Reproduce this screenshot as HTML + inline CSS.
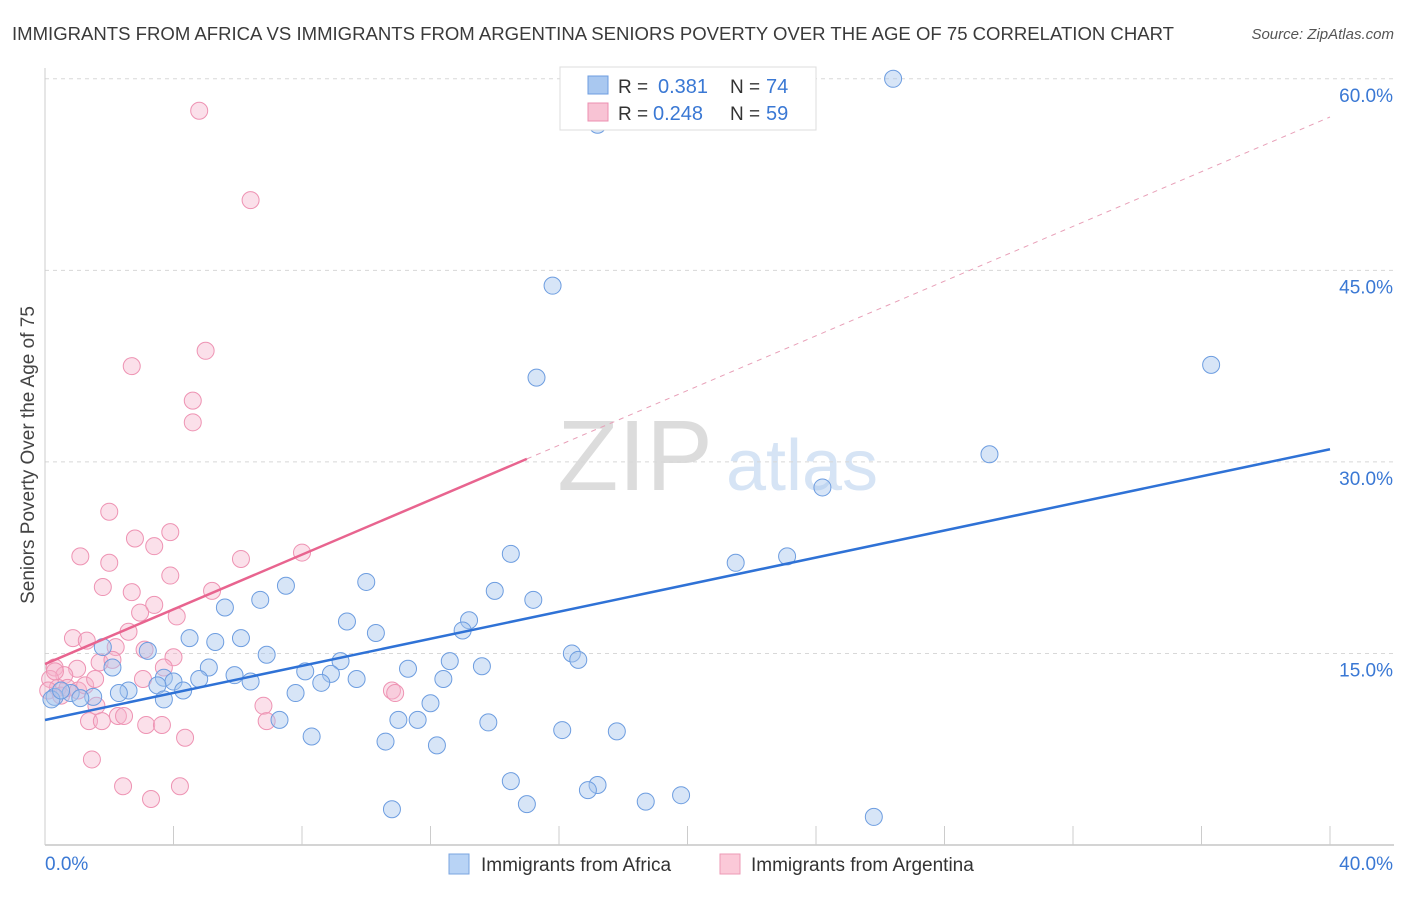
<!DOCTYPE html>
<html><head><meta charset="utf-8"><style>
body{margin:0;background:#fff;font-family:"Liberation Sans",sans-serif;}
svg text{font-family:"Liberation Sans",sans-serif;}
</style></head><body>
<svg id="chart" width="1406" height="892" xmlns="http://www.w3.org/2000/svg">
<text x="12" y="40" font-size="18" fill="#3a3a3a" textLength="1162" lengthAdjust="spacingAndGlyphs">IMMIGRANTS FROM AFRICA VS IMMIGRANTS FROM ARGENTINA SENIORS POVERTY OVER THE AGE OF 75 CORRELATION CHART</text>
<text x="1394" y="39" font-size="15" fill="#555" font-style="italic" text-anchor="end">Source: ZipAtlas.com</text>
<g><text x="635" y="490" font-size="100" fill="#dcdcdc" font-family="Liberation Serif" text-anchor="middle">ZIP</text><text x="802" y="490" font-size="72" fill="#d6e4f5" text-anchor="middle">atlas</text></g>
<g id="grid"></g><g id="axes"></g><g id="pts"></g><g id="lines"></g>
<text transform="translate(34,455) rotate(-90)" font-size="19" fill="#444" text-anchor="middle">Seniors Poverty Over the Age of 75</text>
<g>
<rect x="560" y="67" width="256" height="63" fill="#fff" stroke="#ddd"/>
<rect x="588" y="76" width="20" height="18" fill="#a9c8f0" stroke="#6d9de0"/>
<text x="618" y="93" font-size="19" fill="#333">R =</text><text x="658" y="93" font-size="20" fill="#3a78d4">0.381</text>
<text x="730" y="93" font-size="19" fill="#333">N =</text><text x="766" y="93" font-size="20" fill="#3a78d4">74</text>
<rect x="588" y="103" width="20" height="18" fill="#f8c3d4" stroke="#ec8fb0"/>
<text x="618" y="120" font-size="19" fill="#333">R =</text><text x="653" y="120" font-size="20" fill="#3a78d4">0.248</text>
<text x="730" y="120" font-size="19" fill="#333">N =</text><text x="766" y="120" font-size="20" fill="#3a78d4">59</text>
</g>
<g>
<rect x="449" y="854" width="20" height="20" fill="#b8d3f5" stroke="#7aa4e0"/>
<text x="481" y="871" font-size="19" fill="#333">Immigrants from Africa</text>
<rect x="720" y="854" width="20" height="20" fill="#fbc9d8" stroke="#ec9ab6"/>
<text x="751" y="871" font-size="19" fill="#333">Immigrants from Argentina</text>
</g>
</svg>
<script>
const xTicks=[0,4,8,12,16,20,24,28,32,36,40];
const yTicks=[15,30,45,60];
const yTickLabels=["15.0%","30.0%","45.0%","60.0%"];
const africaX=[26.4,17.2,15.8,15.3,36.3,29.4,24.2,21.5,23.1,14.5,14.0,15.2,10.0,7.5,6.7,5.6,9.4,10.3,13.2,13.0,4.5,6.1,5.3,1.8,3.2,2.1,6.9,9.2,8.1,8.9,11.3,12.6,13.6,16.4,16.6,5.1,5.9,3.7,4.0,4.8,6.4,9.7,12.4,2.6,2.3,3.5,4.3,7.8,8.6,3.7,1.5,0.8,0.3,0.2,0.5,7.3,11.0,11.6,12.0,13.8,16.1,17.8,8.3,10.6,12.2,14.5,15.0,17.2,16.9,18.7,19.8,10.8,25.8,1.1];
const africaY=[60.0,56.4,43.8,36.6,37.6,30.6,28.0,22.1,22.6,22.8,19.9,19.2,20.6,20.3,19.2,18.6,17.5,16.6,17.6,16.8,16.2,16.2,15.9,15.5,15.2,13.9,14.9,14.4,13.6,13.4,13.8,14.4,14.0,15.0,14.5,13.9,13.3,13.1,12.8,13.0,12.8,13.0,13.0,12.1,11.9,12.5,12.1,11.9,12.7,11.4,11.6,11.9,11.6,11.4,12.1,9.8,9.8,9.8,11.1,9.6,9.0,8.9,8.5,8.1,7.8,5.0,3.2,4.7,4.3,3.4,3.9,2.8,2.2,11.5];
const argX=[4.8,6.4,5.0,2.7,4.6,4.6,2.0,2.8,3.9,3.4,1.1,2.0,6.1,8.0,3.9,1.8,2.7,5.2,3.4,2.96,4.1,2.6,0.87,1.3,2.2,3.1,4.0,3.7,1.7,2.1,1.0,0.3,0.6,0.16,0.4,0.1,0.5,0.7,1.6,3.05,10.8,10.9,6.8,6.9,1.37,1.77,2.27,2.46,3.15,3.64,4.36,1.46,2.43,4.2,3.3,1.03,1.25,1.56,0.31];
const argY=[57.5,50.5,38.7,37.5,34.8,33.1,26.1,24.0,24.5,23.4,22.6,22.1,22.4,22.9,21.1,20.2,19.8,19.9,18.8,18.2,17.9,16.7,16.2,16.0,15.5,15.3,14.7,13.9,14.3,14.5,13.8,13.9,13.3,13.0,12.3,12.1,11.7,12.3,10.9,13.0,12.1,11.9,10.9,9.7,9.7,9.7,10.1,10.1,9.4,9.4,8.4,6.7,4.6,4.6,3.6,12.1,12.5,13.0,13.6];
const trendIntercept=[9.79,14.17];
const trendSlope=[0.530,1.071];
const sx=v=>45+v*32.125, sy=v=>845-v*12.77;
const NS="http://www.w3.org/2000/svg";
function mk(t,a,p){const e=document.createElementNS(NS,t);for(const k in a)e.setAttribute(k,a[k]);p.appendChild(e);return e;}
const grid=document.getElementById('grid'),axes=document.getElementById('axes');
yTicks.forEach((t,i)=>{
 const g=mk('line',{x1:45,x2:1394,y1:sy(t),y2:sy(t),stroke:'#d8d8d8','stroke-dasharray':'4,4'},grid);
 
 
 const l=mk('text',{x:1393,y:sy(t)+23,'font-size':19,fill:'#3a78d4','text-anchor':'end'},axes);
 l.textContent=yTickLabels[i];
 
 
});
mk('line',{x1:45,x2:1394,y1:845,y2:845,stroke:'#aaa'},axes);
mk('line',{x1:45,x2:45,y1:68,y2:845,stroke:'#ccc'},axes);
xTicks.forEach(t=>{mk('line',{x1:sx(t),x2:sx(t),y1:826,y2:845,stroke:'#ccc'},axes);});
let t0=mk('text',{x:45,y:870,'font-size':19,fill:'#3a78d4'},axes);t0.textContent='0.0%';


let t1=mk('text',{x:1393,y:870,'font-size':19,fill:'#3a78d4','text-anchor':'end'},axes);t1.textContent='40.0%';


const pts=document.getElementById('pts');
argX.forEach((x,i)=>{const c=mk('circle',{cx:sx(x),cy:sy(argY[i]),r:8.5,fill:'rgba(246,178,202,0.4)',stroke:'#ee93b3','stroke-width':1},pts);
 
 });
africaX.forEach((x,i)=>{const c=mk('circle',{cx:sx(x),cy:sy(africaY[i]),r:8.5,fill:'rgba(166,198,238,0.45)',stroke:'#6d9de0','stroke-width':1},pts);
 
 });
const L=document.getElementById('lines');
const f=(s,x)=>trendIntercept[s]+trendSlope[s]*x;
let b=mk('line',{x1:sx(0),y1:sy(f(0,0)),x2:sx(40),y2:sy(f(0,40)),stroke:'#2f72d6','stroke-width':2.5},L);


let p=mk('line',{x1:sx(0),y1:sy(f(1,0)),x2:sx(15),y2:sy(f(1,15)),stroke:'#e8648f','stroke-width':2.5},L);


let pd=mk('line',{x1:sx(15),y1:sy(f(1,15)),x2:sx(40),y2:sy(f(1,40)),stroke:'#e8a0b8','stroke-width':1,'stroke-dasharray':'5,5'},L);


</script>
</body></html>
